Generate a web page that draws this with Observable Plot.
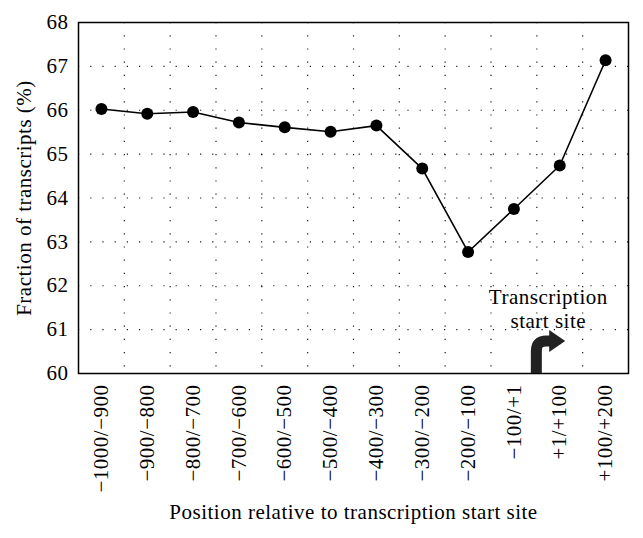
<!DOCTYPE html>
<html>
<head>
<meta charset="utf-8">
<script src="https://cdn.jsdelivr.net/npm/d3@7"></script>
<script src="https://cdn.jsdelivr.net/npm/@observablehq/plot@0.6"></script>
<style>
  body { margin: 0; background: #fff; }
  #chart svg { display: block; letter-spacing: 0.5px; }
</style>
</head>
<body>
<div id="chart"></div>
<script>
const categories = ["−1000/−900", "−900/−800", "−800/−700", "−700/−600", "−600/−500", "−500/−400",
  "−400/−300", "−300/−200", "−200/−100", "−100/+1", "+1/+100", "+100/+200"];
const values = [66.03, 65.92, 65.96, 65.72, 65.61, 65.51, 65.65, 64.67, 62.77, 63.75, 64.74, 67.14];
const yTicks = [60, 61, 62, 63, 64, 65, 66, 67, 68];
const yLabel = "Fraction of transcripts (%)";
const xLabel = "Position relative to transcription start site";
const annotation = "Transcription\nstart site";

const data = categories.map((c, i) => ({i, c, v: values[i]}));
const idx = d3.range(categories.length);
const boundaries = idx.slice(1).map(i => i - 0.5);
const tss = categories.indexOf("+1/+100") - 0.5;

const font = "'Liberation Serif', 'DejaVu Serif', serif";
const fs = 21;

const plot = Plot.plot({
  width: 643,
  height: 538,
  marginLeft: 78,
  marginTop: 22,
  marginRight: 15,
  marginBottom: 165,
  style: {fontFamily: font, fontSize: fs + "px", background: "#fff", color: "#000"},
  x: {type: "linear", domain: [-0.5, categories.length - 0.5]},
  y: {domain: [60, 68]},
  marks: [
    Plot.ruleY(yTicks.slice(1, -1), {stroke: "#000", strokeWidth: 1.2, strokeDasharray: "1.2,11", strokeOpacity: 0.9}),
    Plot.ruleX(boundaries, {stroke: "#000", strokeWidth: 1.2, strokeDasharray: "1.2,12", strokeOpacity: 0.9}),
    Plot.axisY(yTicks, {tickSize: 0, tickPadding: 10, label: null, fontSize: fs}),
    Plot.axisX(idx, {tickFormat: i => categories[i], tickRotate: -90, tickSize: 0, tickPadding: 11, label: null, fontSize: fs}),
    Plot.text([yLabel], {frameAnchor: "left", dx: -54, rotate: -90, textAnchor: "middle", text: d => d, fontSize: fs}),
    Plot.text([xLabel], {frameAnchor: "bottom", dy: 139, textAnchor: "middle", lineAnchor: "middle", text: d => d, fontSize: fs}),
    Plot.text([annotation], {x: () => 9.75, y: () => 61.49, text: d => d, fontSize: fs, lineHeight: 1.15}),
    Plot.line(data, {x: "i", y: "v", stroke: "#000", strokeWidth: 1.6}),
    Plot.dot(data, {x: "i", y: "v", r: 6, fill: "#000", stroke: "none"}),
    Plot.frame({stroke: "#000", strokeWidth: 1.5}),
    // transcription start site bent arrow, positioned by the scales
    (index, scales) => {
      const x0 = scales.x(tss);
      const yb = scales.y(60);
      const yh = scales.y(60.73);
      const xTip = scales.x(tss + 0.63);
      const w = 11;
      const r = 10;
      const g = d3.create("svg:g");
      g.append("path")
        .attr("d", `M${x0},${yb} L${x0},${yh + r} Q${x0},${yh} ${x0 + r},${yh} L${xTip - 14},${yh}`)
        .attr("fill", "none")
        .attr("stroke", "#222")
        .attr("stroke-width", w);
      g.append("path")
        .attr("d", `M${xTip - 16},${yh - 11} L${xTip},${yh} L${xTip - 16},${yh + 11} Z`)
        .attr("fill", "#222");
      return g.node();
    }
  ]
});
document.getElementById("chart").appendChild(plot);
</script>
</body>
</html>
